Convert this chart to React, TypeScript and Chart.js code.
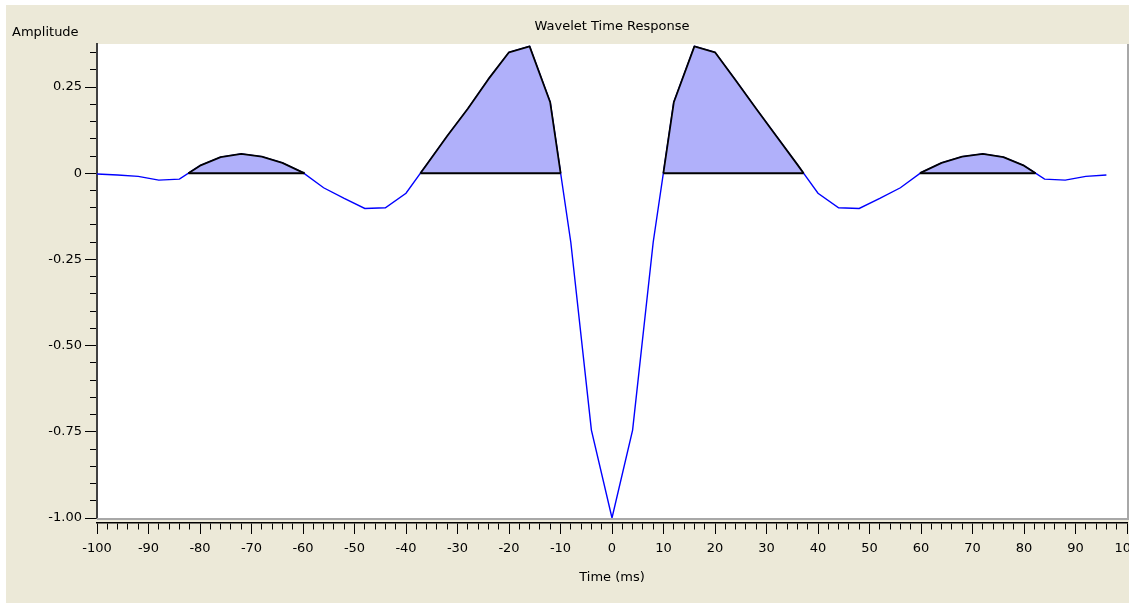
import { useEffect, useRef } from "react";
import { Chart, registerables } from "chart.js";

Chart.register(...registerables);

// Sample times (ms) of the wavelet, 4 ms spacing
const timeMs = [
  -100, -96, -92, -88, -84, -80, -76, -72, -68, -64, -60, -56, -52, -48, -44, -40, -36, -32, -28, -24,
  -20, -16, -12, -8, -4, 0, 4, 8, 12, 16, 20, 24, 28, 32, 36, 40, 44, 48, 52, 56,
  60, 64, 68, 72, 76, 80, 84, 88, 92, 96,
];

// Wavelet amplitude at each sample time
const amplitude = [
  -0.002, -0.005, -0.009, -0.02, -0.017, 0.022, 0.047, 0.056, 0.048, 0.03, 0.002, -0.042, -0.073, -0.102, -0.1, -0.058, 0.025, 0.108, 0.187, 0.273,
  0.351, 0.368, 0.206, -0.2, -0.745, -1.0, -0.745, -0.2, 0.206, 0.368, 0.351, 0.27, 0.187, 0.106, 0.025, -0.058, -0.1, -0.102, -0.073, -0.042,
  0.002, 0.03, 0.048, 0.056, 0.047, 0.022, -0.017, -0.02, -0.009, -0.005,
];

// Labelled ticks
const yTickValues = [0.25, 0, -0.25, -0.5, -0.75, -1.0];
const yTickLabels = ["0.25", "0", "-0.25", "-0.50", "-0.75", "-1.00"];
const xTickValues = [-100, -90, -80, -70, -60, -50, -40, -30, -20, -10, 0, 10, 20, 30, 40, 50, 60, 70, 80, 90, 100];
const xTickLabels = ["-100", "-90", "-80", "-70", "-60", "-50", "-40", "-30", "-20", "-10", "0", "10", "20", "30", "40", "50", "60", "70", "80", "90", "100"];

const FONT = '"DejaVu Sans", sans-serif';
const PAGE_BG = "rgb(236,233,216)";
const LOBE_FILL = "rgb(176,176,250)";

type Pt = { x: number; y: number | null };

const zeroCrossing = (x0: number, y0: number, x1: number, y1: number) => x0 + ((0 - y0) * (x1 - x0)) / (y1 - y0);

// Positive runs of the curve, each bounded by its zero crossings
function positiveRuns(xs: number[], ys: number[]) {
  const runs: { xa: number; xb: number; pts: Pt[] }[] = [];
  let i = 0;
  while (i < ys.length) {
    if (ys[i] <= 0) {
      i++;
      continue;
    }
    const start = i;
    while (i < ys.length && ys[i] > 0) i++;
    const end = i - 1;
    const xa = start > 0 ? zeroCrossing(xs[start - 1], ys[start - 1], xs[start], ys[start]) : xs[start];
    const xb = end < ys.length - 1 ? zeroCrossing(xs[end], ys[end], xs[end + 1], ys[end + 1]) : xs[end];
    const pts: Pt[] = [{ x: xa, y: 0 }];
    for (let k = start; k <= end; k++) pts.push({ x: xs[k], y: ys[k] });
    pts.push({ x: xb, y: 0 });
    runs.push({ xa, xb, pts });
  }
  return runs;
}

const findIndex = (list: number[], v: number) => list.findIndex((t) => Math.abs(t - v) < 1e-6);

const plotFrame = {
  id: "plotFrame",
  beforeDraw(chart: any) {
    const { ctx, chartArea: a } = chart;
    ctx.save();
    ctx.fillStyle = "#ffffff";
    ctx.fillRect(a.left, a.top, a.right - a.left, a.bottom - a.top);
    ctx.restore();
  },
  beforeDatasetsDraw(chart: any) {
    const { ctx, chartArea: a } = chart;
    ctx.save();
    ctx.strokeStyle = "#a8a8a8";
    ctx.lineWidth = 2;
    ctx.beginPath();
    ctx.moveTo(a.left, a.bottom + 1);
    ctx.lineTo(a.right + 1, a.bottom + 1);
    ctx.lineTo(a.right + 1, a.top);
    ctx.stroke();
    ctx.restore();
  },
  afterDraw(chart: any) {
    const { ctx, chartArea: a } = chart;
    ctx.save();
    ctx.fillStyle = "#000";
    ctx.font = `13px ${FONT}`;
    ctx.textAlign = "left";
    ctx.textBaseline = "middle";
    ctx.fillText("Amplitude", 6, a.top - 11);
    ctx.restore();
  },
};

export default function App() {
  const canvasRef = useRef<HTMLCanvasElement>(null);

  useEffect(() => {
    const canvas = canvasRef.current;
    if (!canvas) return;

    const curve = timeMs.map((x, i) => ({ x, y: amplitude[i] }));
    const runs = positiveRuns(timeMs, amplitude);
    const lobes: Pt[] = [];
    const baselines: Pt[] = [];
    runs.forEach((r) => {
      lobes.push(...r.pts, { x: r.xb, y: null });
      baselines.push({ x: r.xa, y: 0 }, { x: r.xb, y: 0 }, { x: r.xb, y: null });
    });
    const tickFont = { family: FONT, size: 13, weight: "normal" as const };

    const chart = new Chart(canvas, {
      type: "line",
      data: {
        datasets: [
          {
            label: "Lobe baselines",
            data: baselines as any,
            xAxisID: "x",
            yAxisID: "y",
            borderColor: "#000000",
            borderWidth: 1.8,
            pointRadius: 0,
            fill: false,
            spanGaps: false,
            order: 0,
          },
          {
            label: "Positive lobes",
            data: lobes as any,
            xAxisID: "x",
            yAxisID: "y",
            borderColor: "#000000",
            borderWidth: 1.8,
            borderJoinStyle: "round",
            pointRadius: 0,
            fill: "origin",
            backgroundColor: LOBE_FILL,
            spanGaps: false,
            tension: 0,
            order: 1,
          },
          {
            label: "Wavelet",
            data: curve,
            xAxisID: "x",
            yAxisID: "y",
            borderColor: "#0000ff",
            borderWidth: 1.4,
            pointRadius: 0,
            tension: 0,
            fill: false,
            order: 2,
          },
        ],
      },
      options: {
        responsive: false,
        animation: false,
        devicePixelRatio: 1,
        layout: { padding: { left: 0, right: 2, top: 0, bottom: 0 } },
        plugins: {
          legend: { display: false },
          tooltip: { enabled: false },
          title: {
            display: true,
            text: "Wavelet Time Response",
            fullSize: false,
            color: "#000",
            font: tickFont,
            padding: { top: 14, bottom: 9.4 },
          },
        },
        scales: {
          x: {
            type: "linear",
            position: "bottom",
            min: -100,
            max: 100,
            weight: 0,
            grid: { display: false },
            border: { display: false },
            ticks: { display: false },
            afterFit: (s: any) => {
              s.height = 5;
              s.paddingLeft = 0;
              s.paddingRight = 0;
            },
          },
          xAxis: {
            type: "linear",
            position: "bottom",
            min: -100,
            max: 100,
            weight: 1,
            border: { display: true, color: "#000", width: 1.5 },
            grid: {
              display: true,
              drawOnChartArea: false,
              drawTicks: true,
              tickLength: 11,
              tickColor: "#000",
              tickWidth: 1,
              tickBorderDash: (c: any) => (c.tick && findIndex(xTickValues, c.tick.value) >= 0 ? [] : [6, 100]),
            },
            ticks: {
              stepSize: 2,
              autoSkip: false,
              maxRotation: 0,
              minRotation: 0,
              padding: 7,
              color: "#000",
              font: tickFont,
              callback: (v: any) => {
                const i = findIndex(xTickValues, Number(v));
                return i >= 0 ? xTickLabels[i] : "";
              },
            },
            title: {
              display: true,
              text: "Time (ms)",
              color: "#000",
              font: tickFont,
              padding: { top: 0, bottom: 17.5 },
            },
            afterFit: (s: any) => {
              s.height = 80;
              s.paddingLeft = 0;
              s.paddingRight = 0;
            },
          },
          y: {
            type: "linear",
            position: "left",
            min: -1.0,
            max: 0.375,
            border: { display: true, color: "#404040", width: 2 },
            grid: {
              display: true,
              drawOnChartArea: false,
              drawTicks: true,
              tickLength: 12,
              tickColor: "#000",
              tickWidth: 1,
              tickBorderDash: (c: any) => (c.tick && findIndex(yTickValues, c.tick.value) >= 0 ? [] : [0, 5, 20, 100]),
            },
            ticks: {
              stepSize: 0.05,
              includeBounds: false,
              autoSkip: false,
              padding: 3,
              color: "#000",
              font: tickFont,
              callback: (v: any) => {
                const i = findIndex(yTickValues, Number(v));
                return i >= 0 ? yTickLabels[i] : "";
              },
            },
            afterFit: (s: any) => {
              s.width = 91;
              s.paddingTop = 0;
              s.paddingBottom = 0;
            },
          },
        },
      } as any,
      plugins: [plotFrame],
    });

    return () => chart.destroy();
  }, []);

  return (
    <div style={{ position: "fixed", left: 0, top: 0, width: 1129, height: 603, background: "#ffffff", overflow: "hidden" }}>
      <div style={{ position: "absolute", left: 6, top: 5, width: 1123, height: 598, background: PAGE_BG }}>
        <canvas ref={canvasRef} width={1123} height={598} style={{ display: "block", width: 1123, height: 598 }} />
      </div>
    </div>
  );
}
